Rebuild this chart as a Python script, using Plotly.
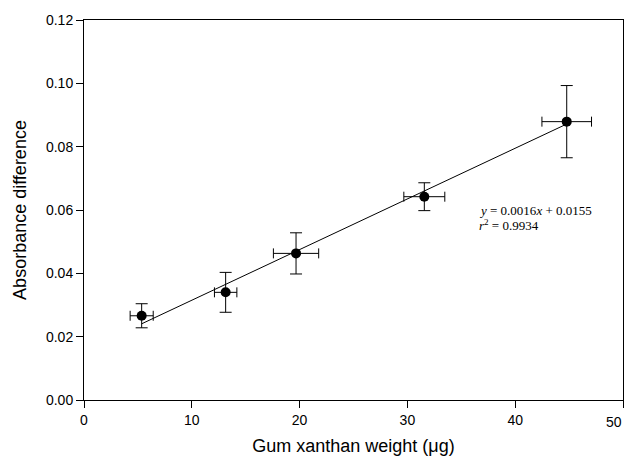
import plotly.graph_objects as go

# Data
weight_ug = [5.35, 13.14, 19.67, 31.57, 44.78]
absorbance_diff = [0.0266, 0.0340, 0.0463, 0.0642, 0.0879]
weight_err = [1.07, 1.04, 2.1, 1.9, 2.3]
absorbance_err = [0.0038, 0.0063, 0.0065, 0.0044, 0.0114]
fit_slope = 0.0016
fit_intercept = 0.0155
r_squared = 0.9934

x_ticks = [0, 10, 20, 30, 40, 50]
y_ticks = [0.00, 0.02, 0.04, 0.06, 0.08, 0.10, 0.12]

fit_x = [min(weight_ug), max(weight_ug)]
fit_y = [fit_slope * v + fit_intercept for v in fit_x]

fig = go.Figure()
fig.add_trace(go.Scatter(
    x=fit_x, y=fit_y, mode="lines",
    line=dict(color="black", width=1), showlegend=False, hoverinfo="skip"))
fig.add_trace(go.Scatter(
    x=weight_ug, y=absorbance_diff, mode="markers",
    marker=dict(color="black", size=10),
    error_y=dict(type="data", array=absorbance_err, color="black", thickness=1, width=6),
    error_x=dict(type="data", array=weight_err, color="black", thickness=1, width=5),
    showlegend=False))

serif = dict(family="Liberation Serif", size=13, color="black")
fig.add_annotation(
    x=0.7286, y=0.5, xref="paper", yref="paper", xanchor="left", yanchor="middle",
    text=f"<i>y</i> = {fit_slope:.4f}<i>x</i> + {fit_intercept:.4f}",
    showarrow=False, align="left", font=serif)
fig.add_annotation(
    x=0.7286, y=0.46, xref="paper", yref="paper", xanchor="left", yanchor="middle",
    text=f"<i>r</i><sup>2</sup> = {r_squared:.4f}",
    showarrow=False, align="left", font=serif)

tick_font = dict(family="Liberation Sans", size=14, color="black")
# last x tick label is right-aligned to its tick (as in the reference) so it stays inside the page
x_ticktext = [str(v) for v in x_ticks[:-1]] + [""]
fig.add_annotation(
    x=x_ticks[-1], y=0, xref="x", yref="paper", xanchor="right", yanchor="middle",
    yshift=-22, xshift=1, text=str(x_ticks[-1]), showarrow=False, font=tick_font)

axis_common = dict(
    showgrid=False, zeroline=False, showline=True, linecolor="black", linewidth=1,
    mirror=True, ticks="outside", ticklen=7, tickcolor="black", tickwidth=1,
    tickfont=tick_font,
)
fig.update_xaxes(range=[0, 50], tickvals=x_ticks, ticktext=x_ticktext,
                 title=dict(text="Gum xanthan weight (μg)", standoff=12,
                            font=dict(family="Liberation Sans", size=18, color="black")),
                 **axis_common)
fig.update_yaxes(range=[0, 0.12], tickvals=y_ticks, ticktext=[f"{v:.2f}" for v in y_ticks],
                 title=dict(text="Absorbance difference", standoff=14,
                            font=dict(family="Liberation Sans", size=18, color="black")),
                 **axis_common)

fig.update_layout(
    width=631, height=464,
    margin=dict(l=84, r=8, t=20, b=64),
    paper_bgcolor="white", plot_bgcolor="white",
)
fig.write_html("out.html", config={"displayModeBar": False},
               post_script="document.body.style.margin='0';document.body.style.overflow='hidden';")
